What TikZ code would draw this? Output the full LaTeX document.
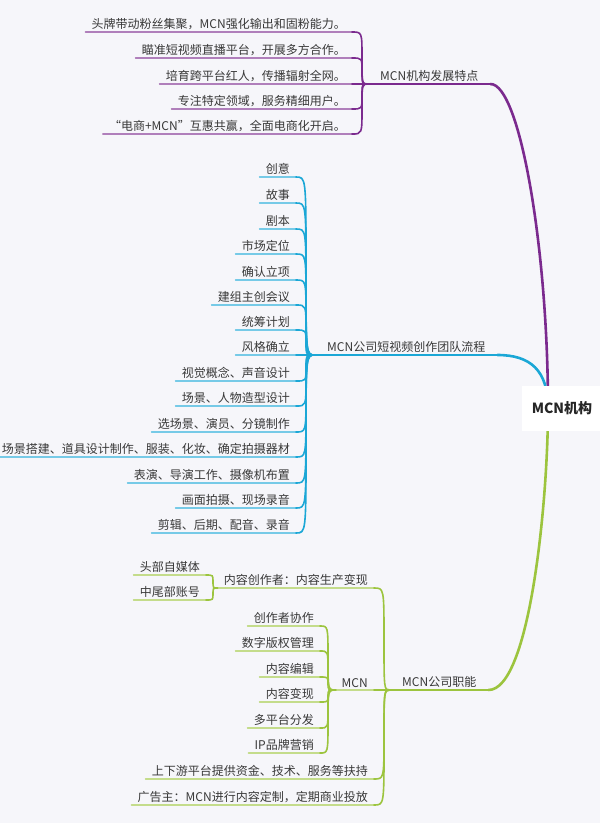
\documentclass[tikz,border=0pt]{standalone}
\usepackage{fontspec}
\setmainfont{Noto Sans CJK SC}
\begin{document}
\begin{tikzpicture}[x=1pt,y=-1pt,
  lf/.style={inner xsep=6pt,inner ysep=2.5pt,font=\fontsize{12}{14}\selectfont,text=black!78},
  ul/.style={line width=1.6pt,line cap=round},
  mainbr/.style={line width=2.6pt,line cap=round},
  rootbox/.style={fill=white,font=\bfseries\fontsize{14}{16}\selectfont,text=black!85,minimum width=80pt,minimum height=45pt}]
\definecolor{bgc}{HTML}{F6F6FA}
\definecolor{pur}{HTML}{7B2A8E}
\definecolor{blu}{HTML}{1BA7D6}
\definecolor{grn}{HTML}{9CC43E}
\fill[bgc] (0,0) rectangle (600,823);
\useasboundingbox (0,0) rectangle (600,823);
% leaf: name, text, right x, underline y, junction, spine x, color
\newcommand\mleaf[7]{%
  \node[lf,anchor=south east] (#1) at (#3,#4) {#2};
  \draw[ul,#7!60] (#1.south west) -- (#1.south east);
  \draw[ul,#7] (#1.south east) .. controls (#6,#4) and (#6,#4) .. (#6,{#4+((\csname jy#5\endcsname)-#4)*0.5}) .. controls (#6,\csname jy#5\endcsname) and (#6,\csname jy#5\endcsname) .. (#5);}
\coordinate (R) at (548,408);
% purple
\coordinate (JP) at (368,84) ; \def\jyJP{84}
\node[lf,anchor=south west,inner xsep=12pt] (LP) at (JP) {MCN机构发展特点};
\draw[ul,pur] (LP.south west) -- (LP.south east);
\draw[mainbr,pur] (LP.south east) .. controls (520,84) and (548,250) .. (R);
\mleaf{p1}{头牌带动粉丝集聚，MCN强化输出和固粉能力。}{352}{32}{JP}{362}{pur}
\mleaf{p2}{瞄准短视频直播平台，开展多方合作。}{352}{58}{JP}{362}{pur}
\mleaf{p3}{培育跨平台红人，传播辐射全网。}{352}{84}{JP}{362}{pur}
\mleaf{p4}{专注特定领域，服务精细用户。}{352}{109}{JP}{362}{pur}
\mleaf{p5}{“电商+MCN”互惠共赢，全面电商化开启。}{352}{134}{JP}{362}{pur}
% blue
\coordinate (JB) at (315,355) ; \def\jyJB{355}
\node[lf,anchor=south west,inner xsep=12pt] (LB) at (JB) {MCN公司短视频创作团队流程};
\draw[ul,blu] (LB.south west) -- (LB.south east);
\draw[mainbr,blu] (LB.south east) .. controls (530,355) and (548,370) .. (R);
\mleaf{b1}{创意}{296}{177}{JB}{306}{blu}
\mleaf{b2}{故事}{296}{203}{JB}{306}{blu}
\mleaf{b3}{剧本}{296}{229}{JB}{306}{blu}
\mleaf{b4}{市场定位}{296}{254}{JB}{306}{blu}
\mleaf{b5}{确认立项}{296}{280}{JB}{306}{blu}
\mleaf{b6}{建组主创会议}{296}{305}{JB}{306}{blu}
\mleaf{b7}{统筹计划}{296}{330}{JB}{306}{blu}
\mleaf{b8}{风格确立}{296}{355}{JB}{306}{blu}
\mleaf{b9}{视觉概念、声音设计}{296}{381}{JB}{306}{blu}
\mleaf{b10}{场景、人物造型设计}{296}{406}{JB}{306}{blu}
\mleaf{b11}{选场景、演员、分镜制作}{296}{432}{JB}{306}{blu}
\mleaf{b12}{场景搭建、道具设计制作、服装、化妆、确定拍摄器材}{296}{457}{JB}{306}{blu}
\mleaf{b13}{表演、导演工作、摄像机布置}{296}{483}{JB}{306}{blu}
\mleaf{b14}{画面拍摄、现场录音}{296}{508}{JB}{306}{blu}
\mleaf{b15}{剪辑、后期、配音、录音}{296}{533}{JB}{306}{blu}
% green
\coordinate (JG) at (390,690) ; \def\jyJG{690}
\node[lf,anchor=south west,inner xsep=12pt] (LG) at (JG) {MCN公司职能};
\draw[ul,grn] (LG.south west) -- (LG.south east);
\draw[mainbr,grn] (LG.south east) .. controls (530,690) and (548,500) .. (R);
\mleaf{g1}{内容创作者：内容生产变现}{374}{588}{JG}{384}{grn}
\mleaf{g2}{MCN}{374}{690}{JG}{384}{grn}
\mleaf{g3}{上下游平台提供资金、技术、服务等扶持}{374}{779}{JG}{384}{grn}
\mleaf{g4}{广告主：MCN进行内容定制，定期商业投放}{374}{805}{JG}{384}{grn}
\coordinate (JC) at (g1.south west) ; \def\jyJC{588}
\mleaf{c1}{头部自媒体}{206}{575}{JC}{213}{grn}
\mleaf{c2}{中尾部账号}{206}{600}{JC}{213}{grn}
\coordinate (JM) at (g2.south west) ; \def\jyJM{690}
\mleaf{m1}{创作者协作}{320}{626}{JM}{328}{grn}
\mleaf{m2}{数字版权管理}{320}{651}{JM}{328}{grn}
\mleaf{m3}{内容编辑}{320}{677}{JM}{328}{grn}
\mleaf{m4}{内容变现}{320}{702}{JM}{328}{grn}
\mleaf{m5}{多平台分发}{320}{728}{JM}{328}{grn}
\mleaf{m6}{IP品牌营销}{320}{753}{JM}{328}{grn}
\node[rootbox] (root) at (562,408) {MCN机构};
\end{tikzpicture}
\end{document}
